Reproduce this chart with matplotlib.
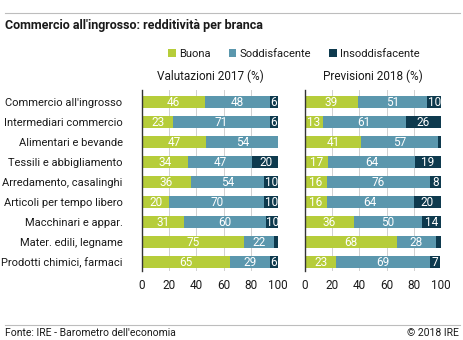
import matplotlib.pyplot as plt
import numpy as np
from matplotlib.lines import Line2D
from matplotlib.patches import Patch

plt.rcParams['font.family'] = ['Roboto', 'DejaVu Sans']

branches = [
    "Commercio all'ingrosso",
    "Intermediari commercio",
    "Alimentari e bevande",
    "Tessili e abbigliamento",
    "Arredamento, casalinghi",
    "Articoli per tempo libero",
    "Macchinari e appar.",
    "Mater. edili, legname",
    "Prodotti chimici, farmaci",
]
categories = ["Buona", "Soddisfacente", "Insoddisfacente"]

# 2017 assessments (%)
buona_2017 = [46, 23, 47, 34, 36, 20, 31, 75, 65]
soddisf_2017 = [48, 71, 54, 47, 54, 70, 60, 22, 29]
insoddisf_2017 = [6, 6, 0, 20, 10, 10, 10, 3, 6]

# 2018 forecasts (%)
buona_2018 = [39, 13, 41, 17, 16, 16, 36, 68, 23]
soddisf_2018 = [51, 61, 57, 64, 76, 64, 50, 28, 69]
insoddisf_2018 = [10, 26, 2, 19, 8, 20, 14, 4, 7]

colors = ["#b6cd3a", "#5b97ad", "#0e3a4e"]
txt = "#1a1a1a"

fig = plt.figure(figsize=(4.63, 3.40), dpi=100)

panels = [
    ("Valutazioni 2017 (%)", [buona_2017, soddisf_2017, insoddisf_2017], 142),
    ("Previsioni 2018 (%)", [buona_2018, soddisf_2018, insoddisf_2018], 305),
]

W, H = 463, 340
y = np.arange(len(branches))
for i, (subtitle, series, x0) in enumerate(panels):
    ax = fig.add_axes([x0 / W, 1 - 271 / H, 136 / W, 181 / H])
    left = np.zeros(len(branches))
    for vals, col in zip(series, colors):
        vals = np.array(vals, dtype=float)
        ax.barh(y, vals, left=left, height=0.62, color=col, zorder=2)
        for yi, (l, v) in enumerate(zip(left, vals)):
            if v >= 5:
                ax.text(l + v / 2, yi, f"{int(v)}", ha="center", va="center",
                        color="white", fontsize=8.5, zorder=3)
        left += vals
    ax.set_xlim(0, 100)
    ax.set_ylim(8.45, -0.6)
    ax.set_xticks([0, 20, 40, 60, 80, 100])
    ax.xaxis.grid(True, color="#d0d0d0", lw=0.7, zorder=0)
    ax.set_axisbelow(True)
    for s in ["top", "right", "bottom"]:
        ax.spines[s].set_visible(False)
    ax.spines["left"].set_color("#333333")
    ax.spines["left"].set_linewidth(1.0)
    ax.tick_params(axis="both", length=0, labelsize=8.5, colors=txt, pad=6)
    ax.set_yticks(y)
    if i == 0:
        ax.set_yticklabels(branches, fontsize=8, color=txt)
        ax.tick_params(axis="y", pad=14)
    else:
        ax.set_yticklabels([])
    ax.set_title(subtitle, fontsize=8.5, color=txt, pad=7)

# header and footer rules
fig.add_artist(Line2D([5 / W, 460 / W], [1 - 13 / H] * 2, color="#bdbdbd", lw=0.8))
fig.add_artist(Line2D([5 / W, 460 / W], [1 - 325 / H] * 2, color="#bdbdbd", lw=0.8))

fig.text(5 / W, 1 - 25 / H, "Commercio all'ingrosso: redditività per branca",
         fontsize=9, fontweight="bold", color=txt, va="center")
fig.text(5 / W, 1 - 333 / H, "Fonte: IRE - Barometro dell'economia",
         fontsize=7.5, color=txt, va="center")
fig.text(459 / W, 1 - 333 / H, "© 2018 IRE", fontsize=7.5, color=txt,
         va="center", ha="right")

handles = [Patch(facecolor=c, edgecolor="none") for c in colors]
fig.legend(handles, categories, loc="center", bbox_to_anchor=(294 / W, 1 - 54 / H),
           ncol=3, frameon=False, fontsize=8, handlelength=0.7, handleheight=0.7,
           handletextpad=0.3, columnspacing=1.6, labelcolor=txt)

fig.savefig("out.png", dpi=100)
